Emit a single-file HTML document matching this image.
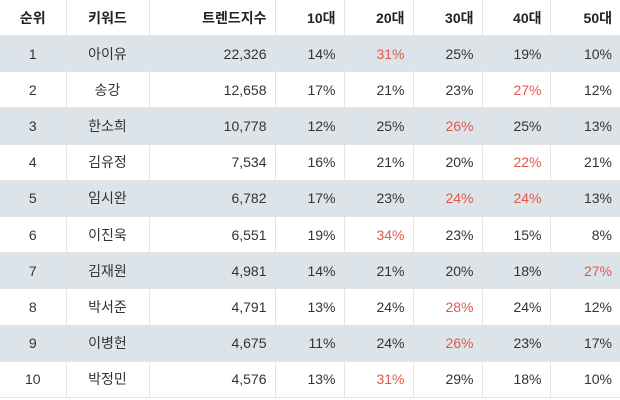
<!DOCTYPE html>
<html><head><meta charset="utf-8"><style>
body{margin:0;width:620px;height:400px;background:#fff;overflow:hidden;font-family:"Liberation Sans","Noto Sans CJK KR",sans-serif;}
table{border-collapse:collapse;width:620px;table-layout:fixed;font-size:14px;color:#333;}
th,td{border-left:1px solid #e4e4e4;border-bottom:1px solid #e4e4e4;padding:0 8px;}
th:first-child,td:first-child{border-left:none}
th{height:35px;font-weight:bold;color:#222;font-size:14px;}
td{height:35.2px;}
tr.s td{background:#dce4ea;}
.c{text-align:center}.r{text-align:right}
.red{color:#e0584a}
</style></head><body>
<table>
<colgroup><col style="width:66px"><col style="width:83px"><col style="width:126px"><col style="width:69px"><col style="width:69px"><col style="width:69px"><col style="width:68px"><col style="width:70px"></colgroup>
<thead><tr>
<th class="c">순위</th>
<th class="c">키워드</th>
<th class="r">트렌드지수</th>
<th class="r">10대</th>
<th class="r">20대</th>
<th class="r">30대</th>
<th class="r">40대</th>
<th class="r">50대</th>
</tr></thead>
<tbody id="tb"></tbody></table>
<script>
const names=["아이유","송강","한소희","김유정","임시완","이진욱","김재원","박서준","이병헌","박정민"];
const scores=["22,326","12,658","10,778","7,534","6,782","6,551","4,981","4,791","4,675","4,576"];
const ages=[[14,31,25,19,10],[17,21,23,27,12],[12,25,26,25,13],[16,21,20,22,21],[17,23,24,24,13],[19,34,23,15,8],[14,21,20,18,27],[13,24,28,24,12],[11,24,26,23,17],[13,31,29,18,10]];
const tb=document.getElementById('tb');
names.forEach((n,i)=>{
  const tr=document.createElement('tr');
  
  
  if(i%2===0)tr.className='s';
  const mx=Math.max(...ages[i]);
  const cells=[[String(i+1),'c','rank'],[n,'c','keyword'],[scores[i],'r','trend-index']];
  ages[i].forEach((v,j)=>cells.push([v+'%','r'+(v===mx?' red':''),'age-'+(j+1)*10]));
  cells.forEach(c=>{
    const td=document.createElement('td');
    td.textContent=c[0];td.className=c[1];
    
    
    tr.appendChild(td);
  });
  tb.appendChild(tr);
});
</script>
</body></html>
